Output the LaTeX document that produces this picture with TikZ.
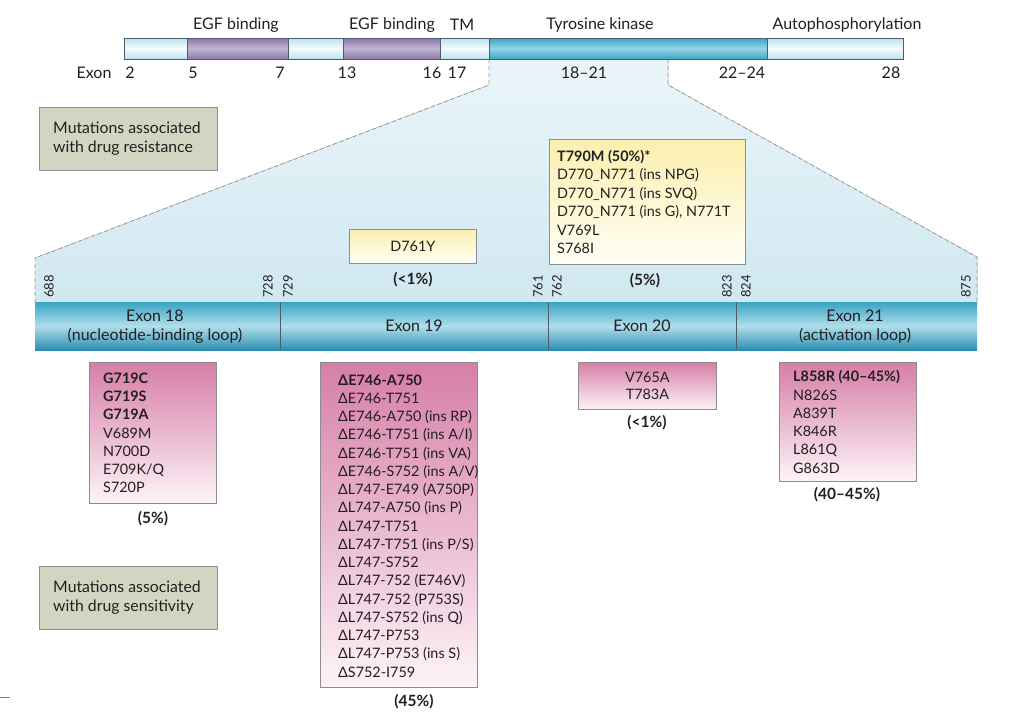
\documentclass[tikz,border=0pt]{standalone}
\usepackage{fontspec}
\setmainfont{Lato}
\definecolor{txt}{HTML}{231F20}
\definecolor{lsegE}{HTML}{BCE2EE}
\definecolor{lsegM}{HTML}{F6FBFD}
\definecolor{purE}{HTML}{8A78A6}
\definecolor{purM}{HTML}{C3B5D5}
\definecolor{dsegE}{HTML}{3AA6C6}
\definecolor{dsegM}{HTML}{95D3E5}
\definecolor{barT}{HTML}{3AA3C4}
\definecolor{barM}{HTML}{B0DFEB}
\definecolor{barB}{HTML}{2C8DAF}
\definecolor{trapT}{HTML}{EAF5F9}
\definecolor{trapB}{HTML}{D0E8F1}
\definecolor{yelT}{HTML}{FCEFAE}
\definecolor{yelB}{HTML}{FFFEF6}
\definecolor{pinkT}{HTML}{D67EA7}
\definecolor{pinkB}{HTML}{FDF4F8}
\definecolor{grayfill}{HTML}{D3D5C2}
\definecolor{boxline}{HTML}{8E8E8E}
\definecolor{segline}{HTML}{4F5E68}
\tikzset{
  lab/.style={font=\fontsize{16}{19}\selectfont, text=txt, inner sep=0pt},
  num/.style={font=\fontsize{13}{15}\selectfont, text=txt, inner sep=0pt, rotate=90, anchor=west},
  pct/.style={font=\fontsize{15.5}{18}\selectfont\bfseries, text=txt, inner sep=0pt},
  pinkbox/.style={draw=boxline, line width=0.8pt, top color=pinkT, bottom color=pinkB, anchor=north west, inner sep=0pt},
  yelbox/.style={draw=boxline, line width=0.8pt, top color=yelT, bottom color=yelB, anchor=north west, inner sep=0pt},
  listtext/.style={font=\fontsize{14.4}{18.25}\selectfont, text=txt, align=left, inner sep=0pt, anchor=west},
  listctr/.style={font=\fontsize{14.4}{17.5}\selectfont, text=txt, align=center, inner sep=0pt},
  legbox/.style={draw=boxline, line width=0.8pt, fill=grayfill, minimum width=178pt, minimum height=63pt, anchor=north west, inner sep=0pt},
  legtext/.style={font=\fontsize{15.8}{19}\selectfont, text=txt, align=left, inner sep=0pt, anchor=west},
  lseg/.style={top color=lsegE, bottom color=lsegE, middle color=lsegM},
  pseg/.style={top color=purE, bottom color=purE, middle color=purM},
  dseg/.style={top color=dsegE, bottom color=dsegE, middle color=dsegM},
  dashline/.style={dashed, dash pattern=on 4pt off 3pt, draw=gray!80, line width=0.8pt},
}
\begin{document}
\begin{tikzpicture}[x=1pt,y=-1pt]
\useasboundingbox (0,0) rectangle (1024,721);
\fill[white] (0,0) rectangle (1024,721);

% zoom trapezoid
\fill[top color=trapT, bottom color=trapB] (489,59) -- (489,85) -- (35,258) -- (35,302) -- (977,302) -- (977,257) -- (668,85) -- (668,59) -- cycle;
\draw[dashline] (489,59) -- (489,85) -- (35,258) -- (35,302);
\draw[dashline] (668,59) -- (668,85) -- (977,257) -- (977,302);

% top bar
\path[lseg] (124,38) rectangle (187,59);
\path[pseg] (187,38) rectangle (288,59);
\path[lseg] (288,38) rectangle (343,59);
\path[pseg] (343,38) rectangle (440,59);
\path[lseg] (440,38) rectangle (489,59);
\path[dseg] (489,38) rectangle (767,59);
\path[lseg] (767,38) rectangle (903,59);
\draw[segline, line width=0.6pt] (124,38) rectangle (903,59);
\foreach \xx in {187,288,343,440,489,767} \draw[segline, line width=0.6pt] (\xx,38) -- (\xx,59);

\node[lab] (egf1) at (236,25) {EGF binding};
\node[lab] (egf2) at (392,25) {EGF binding};
\node[lab] (tm) at (462,25) {TM};
\node[lab] (tk) at (600,25) {Tyrosine kinase};
\node[lab] (auto) at (847,25) {Autophosphorylation};

\node[lab] (exon) at (94,73) {Exon};
\node[lab] (e2) at (130,73) {2};
\node[lab] (e5) at (193,73) {5};
\node[lab] (e7) at (280,73) {7};
\node[lab] (e13) at (347,73) {13};
\node[lab] (e16) at (432,73) {16};
\node[lab] (e17) at (457,73) {17};
\node[lab] (e1821) at (584,73) {18--21};
\node[lab] (e2224) at (742,73) {22--24};
\node[lab] (e28) at (891,73) {28};

% legend boxes
\node[legbox] (resist) at (39,107) {};
\node[legtext] (resistt) at ([xshift=14pt]resist.west) {Mutations associated\\with drug resistance};
\node[legbox] (sens) at (39,566) {};
\node[legtext] (senst) at ([xshift=14pt]sens.west) {Mutations associated\\with drug sensitivity};

% yellow boxes
\node[yelbox, minimum width=127pt, minimum height=34pt] (d761) at (349,229) {};
\node[listctr] (d761t) at (d761.center) {D761Y};
\node[pct] (d761p) at (413,280) {(<1\%)};
\node[yelbox, minimum width=196pt, minimum height=125pt] (t790) at (549,139) {};
\node[listtext, font=\fontsize{14.4}{18.4}\selectfont] (t790t) at ([xshift=8pt]t790.west) {\textbf{T790M (50\%)*}\\D770\_N771 (ins NPG)\\D770\_N771 (ins SVQ)\\D770\_N771 (ins G), N771T\\V769L\\S768I};
\node[pct] (t790p) at (645,281) {(5\%)};

% residue numbers
\node[num] (n688) at (49,298) {688};
\node[num] (n728) at (268,298) {728};
\node[num] (n729) at (288,298) {729};
\node[num] (n761) at (538,298) {761};
\node[num] (n762) at (557,298) {762};
\node[num] (n823) at (727,298) {823};
\node[num] (n824) at (746,298) {824};
\node[num] (n875) at (966,298) {875};

% bottom bar
\path[top color=barT, bottom color=barB, middle color=barM] (35,302) rectangle (977,350);
\foreach \xx in {280,548,736} \draw[segline, line width=0.6pt] (\xx,302) -- (\xx,350);
\node[lab, align=center] (x18) at (155,327) {Exon 18\\(nucleotide-binding loop)};
\node[lab] (x19) at (414,326) {Exon 19};
\node[lab] (x20) at (642,326) {Exon 20};
\node[lab, align=center] (x21) at (855,327) {Exon 21\\(activation loop)};

% pink boxes
\node[pinkbox, minimum width=127pt, minimum height=141pt] (g719) at (89,362) {};
\node[listtext] (g719t) at ([xshift=14pt]g719.west) {\textbf{G719C}\\\textbf{G719S}\\\textbf{G719A}\\V689M\\N700D\\E709K/Q\\S720P};
\node[pct] (g719p) at (153,519) {(5\%)};

\node[pinkbox, minimum width=157pt, minimum height=325pt] (del19) at (320,362) {};
\node[listtext] (del19t) at ([xshift=18pt, yshift=-1pt]del19.west) {\textbf{ΔE746-A750}\\ΔE746-T751\\ΔE746-A750 (ins RP)\\ΔE746-T751 (ins A/I)\\ΔE746-T751 (ins VA)\\ΔE746-S752 (ins A/V)\\ΔL747-E749 (A750P)\\ΔL747-A750 (ins P)\\ΔL747-T751\\ΔL747-T751 (ins P/S)\\ΔL747-S752\\ΔL747-752 (E746V)\\ΔL747-752 (P753S)\\ΔL747-S752 (ins Q)\\ΔL747-P753\\ΔL747-P753 (ins S)\\ΔS752-I759};
\node[pct] (del19p) at (414,702) {(45\%)};

\node[pinkbox, minimum width=138pt, minimum height=47pt] (v765) at (578,362) {};
\node[listctr] (v765t) at (v765.center) {V765A\\T783A};
\node[pct] (v765p) at (647,423) {(<1\%)};

\node[pinkbox, minimum width=137pt, minimum height=119pt] (l858) at (779,362) {};
\node[listtext] (l858t) at ([xshift=14pt]l858.west) {\textbf{L858R (40--45\%)}\\N826S\\A839T\\K846R\\L861Q\\G863D};
\node[pct] (l858p) at (847,495) {(40--45\%)};

% stray tick at lower left
\draw[gray, line width=0.6pt] (0,697) -- (10,697);
\end{tikzpicture}
\end{document}
